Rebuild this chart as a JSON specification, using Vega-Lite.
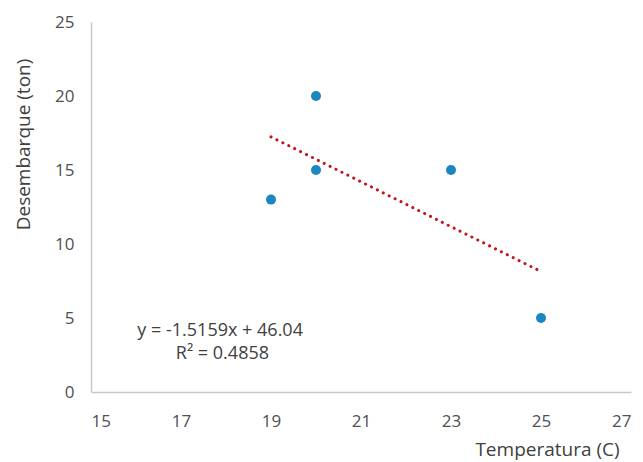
{
  "$schema": "https://vega.github.io/schema/vega-lite/v6.json",
  "width": 540,
  "height": 370,
  "autosize": "none",
  "padding": {"left": 91, "top": 22, "right": 12, "bottom": 70},
  "background": "white",
  "config": {
    "view": {"stroke": null},
    "font": "Open Sans",
    "axis": {
      "grid": false,
      "ticks": false,
      "domainColor": "#c8c8c8",
      "domainWidth": 1.5,
      "labelColor": "#505050",
      "labelFontSize": 17,
      "titleColor": "#404040",
      "titleFontSize": 19,
      "titleFontWeight": "normal"
    }
  },
  "datasets": {
    "pts": [
      {"temp": 19, "desemb": 13},
      {"temp": 20, "desemb": 20},
      {"temp": 20, "desemb": 15},
      {"temp": 23, "desemb": 15},
      {"temp": 25, "desemb": 5}
    ],
    "trend": [
      {"temp": 19, "desemb": 17.24},
      {"temp": 25, "desemb": 8.14}
    ],
    "notes": [
      {"temp": 17.87, "desemb": 4.15, "label": "y = -1.5159x + 46.04"},
      {"temp": 17.92, "desemb": 2.57, "label": "R² = 0.4858"}
    ]
  },
  "layer": [
    {
      "data": {"name": "trend"},
      "mark": {"type": "line", "color": "#c0161c", "strokeWidth": 3, "strokeDash": [0.1, 6.5], "strokeCap": "round"},
      "encoding": {
        "x": {"field": "temp", "type": "quantitative", "scale": {"domain": [15, 27], "nice": false, "zero": false},
          "axis": {"values": [15, 17, 19, 21, 23, 25, 27], "title": "Temperatura (C)", "labelPadding": 21,
            "titleX": 456, "titleY": 57, "titleAlign": "center", "titleBaseline": "middle"}},
        "y": {"field": "desemb", "type": "quantitative", "scale": {"domain": [0, 25], "nice": false},
          "axis": {"values": [0, 5, 10, 15, 20, 25], "title": "Desembarque (ton)", "labelPadding": 17,
            "titleX": -68, "titleY": 122, "titleAngle": -90, "titleAlign": "center", "titleBaseline": "middle"}}
      }
    },
    {
      "data": {"name": "pts"},
      "mark": {"type": "circle", "color": "#1c86c0", "size": 100, "opacity": 1},
      "encoding": {
        "x": {"field": "temp", "type": "quantitative"},
        "y": {"field": "desemb", "type": "quantitative"}
      }
    },
    {
      "data": {"name": "notes"},
      "mark": {"type": "text", "color": "#404040", "fontSize": 18, "align": "center", "baseline": "middle"},
      "encoding": {
        "x": {"field": "temp", "type": "quantitative"},
        "y": {"field": "desemb", "type": "quantitative"},
        "text": {"field": "label"}
      }
    }
  ]
}
